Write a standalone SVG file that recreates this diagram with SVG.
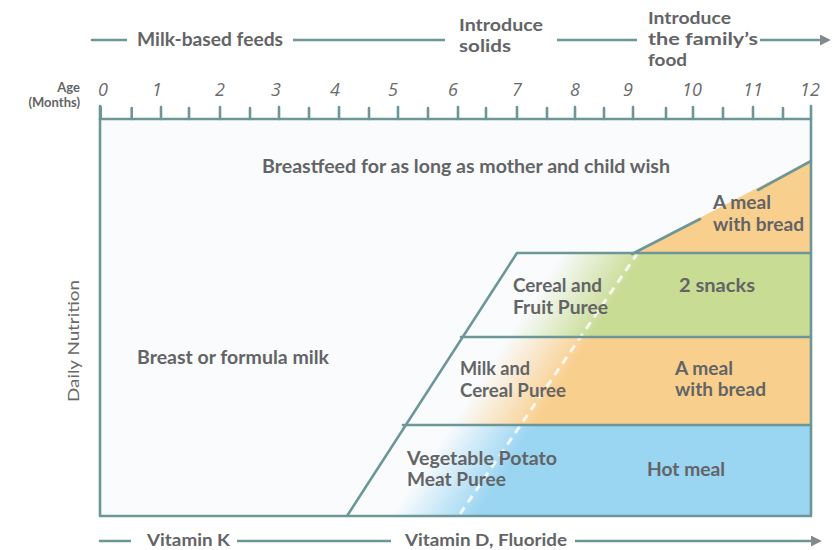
<svg xmlns="http://www.w3.org/2000/svg" width="836" height="550" viewBox="0 0 836 550">
<defs>
<style>
.t{font-family:Lato,"Open Sans","Liberation Sans",sans-serif;font-weight:700;font-size:19px;fill:#636466}
.u{font-family:Lato,"Open Sans","Liberation Sans",sans-serif;font-weight:700;font-size:17.5px;fill:#636466}
.s{font-family:Lato,"Open Sans","Liberation Sans",sans-serif;font-weight:700;font-size:13px;fill:#636466}
.v{font-family:Lato,"Open Sans","Liberation Sans",sans-serif;font-weight:400;font-size:16px;fill:#68696b}
.n{font-family:"Open Sans","Liberation Sans",sans-serif;font-style:italic;font-size:18px;fill:#6a6b6d;text-anchor:middle}
.ln{fill:none;stroke:#6c9698;stroke-width:2.6;stroke-linecap:round;stroke-linejoin:round}
.arr{fill:none;stroke:#6c9698;stroke-width:2.6;stroke-linecap:round}
.gap{fill:#ffffff}
.dash{fill:none;stroke:#ffffff;stroke-width:3;stroke-dasharray:8 6;opacity:0.8}
</style>
<marker id="ah" viewBox="0 0 10 10" refX="2" refY="5" markerWidth="11" markerHeight="11" markerUnits="userSpaceOnUse" orient="auto"><path d="M0,0 L10,5 L0,10 Z" fill="#85898b"/></marker>
<linearGradient id="gG" gradientUnits="userSpaceOnUse" x1="535" y1="295" x2="594" y2="333"><stop offset="0" stop-color="#c8dc94" stop-opacity="0"/><stop offset="1" stop-color="#c8dc94"/></linearGradient>
<linearGradient id="gO" gradientUnits="userSpaceOnUse" x1="535" y1="295" x2="594" y2="333"><stop offset="0" stop-color="#f9cf8e" stop-opacity="0"/><stop offset="1" stop-color="#f9cf8e"/></linearGradient>
<linearGradient id="gB" gradientUnits="userSpaceOnUse" x1="535" y1="295" x2="594" y2="333"><stop offset="0" stop-color="#9ad5f2" stop-opacity="0"/><stop offset="1" stop-color="#9ad5f2"/></linearGradient>
</defs>
<rect width="836" height="550" fill="#ffffff"/>

<g id="chart-area">
<rect x="100" y="119" width="711" height="397" fill="#f9fbfd"/>
</g>

<g id="band-top-meal">
<polygon points="632,253 811,160 811,253" fill="#f9cf8e"/>
</g>

<g id="band-snacks">
<polygon points="517,253 811,253 811,337 461,337" fill="url(#gG)"/>
</g>

<g id="band-meal-bread">
<polygon points="461,337 811,337 811,425 403,425" fill="url(#gO)"/>
</g>

<g id="band-hot-meal">
<polygon points="403,425 811,425 811,516 347,516" fill="url(#gB)"/>
</g>

<g id="transition-line">
<line class="dash" x1="460" y1="514" x2="637" y2="254"/>
</g>

<g id="connectors">
<path class="ln" d="M347,516 L517,253 L811,253"/>
<path class="ln" d="M461,337 L811,337"/>
<path class="ln" d="M403,425 L811,425"/>
<path class="ln" d="M632,254 L700,219"/>
<path class="ln" d="M758,190 L811,161"/>
<path class="ln" d="M100,106 L100,516 L811,516 L811,106"/>
<path class="ln" d="M100,119 L811,119"/>
<path class="ln" d="M100.7,107V119 M131.7,108V119 M161,107V119 M189,108V119 M220,107V119 M250,108V119 M279,107V119 M309,108V119 M339,107V119 M369,108V119 M398,107V119 M428,108V119 M458,107V119 M486,108V119 M517,107V119 M547,108V119 M575,107V119 M604,108V119 M633,107V119 M666,108V119 M693,107V119 M723,108V119 M753,107V119 M783,108V119"/>
<path class="arr" d="M92,40 L822,40" marker-end="url(#ah)"/>
<path class="arr" d="M100,541 L813,541" marker-end="url(#ah)"/>
</g>

<g id="label-top-meal">
<text class="t" x="713" y="209" textLength="58" lengthAdjust="spacingAndGlyphs">A meal</text>
<text class="t" x="713" y="231" textLength="91" lengthAdjust="spacingAndGlyphs">with bread</text>
</g>
<g id="label-snacks">
<text class="t" x="513" y="292" textLength="89" lengthAdjust="spacingAndGlyphs">Cereal and</text>
<text class="t" x="513" y="314" textLength="95" lengthAdjust="spacingAndGlyphs">Fruit Puree</text>
<text class="t" x="679" y="292" textLength="76" lengthAdjust="spacingAndGlyphs">2 snacks</text>
</g>
<g id="label-meal-bread">
<text class="t" x="460" y="375" textLength="70" lengthAdjust="spacingAndGlyphs">Milk and</text>
<text class="t" x="460" y="397" textLength="106" lengthAdjust="spacingAndGlyphs">Cereal Puree</text>
<text class="t" x="675" y="375" textLength="58" lengthAdjust="spacingAndGlyphs">A meal</text>
<text class="t" x="675" y="396" textLength="91" lengthAdjust="spacingAndGlyphs">with bread</text>
</g>
<g id="label-hot-meal">
<text class="t" x="407" y="465" textLength="150" lengthAdjust="spacingAndGlyphs">Vegetable Potato</text>
<text class="t" x="407" y="486" textLength="99" lengthAdjust="spacingAndGlyphs">Meat Puree</text>
<text class="t" x="647" y="476" textLength="78" lengthAdjust="spacingAndGlyphs">Hot meal</text>
</g>

<g id="breastfeed">
<text class="t" x="262" y="173" textLength="408" lengthAdjust="spacingAndGlyphs">Breastfeed for as long as mother and child wish</text>
</g>

<g id="milk">
<text class="t" x="137" y="364" textLength="192" lengthAdjust="spacingAndGlyphs">Breast or formula milk</text>
</g>

<g id="axis-labels">
<text class="s" x="80" y="92" text-anchor="end">Age</text>
<text class="s" x="80" y="107" text-anchor="end">(Months)</text>
<text class="n" x="103" y="96">0</text>
<text class="n" x="157" y="96">1</text>
<text class="n" x="220" y="96">2</text>
<text class="n" x="276" y="96">3</text>
<text class="n" x="335" y="96">4</text>
<text class="n" x="393" y="96">5</text>
<text class="n" x="453" y="96">6</text>
<text class="n" x="517" y="96">7</text>
<text class="n" x="575" y="96">8</text>
<text class="n" x="628" y="96">9</text>
<text class="n" x="692" y="96">10</text>
<text class="n" x="753" y="96">11</text>
<text class="n" x="810" y="96">12</text>
<text class="v" transform="translate(79,341) rotate(-90)" text-anchor="middle" textLength="122" lengthAdjust="spacingAndGlyphs">Daily Nutrition</text>
</g>

<g id="stage-milk-feeds">
<rect class="gap" x="127" y="26" width="166" height="28"/>
<text class="t" x="137" y="46" textLength="146" lengthAdjust="spacingAndGlyphs">Milk-based feeds</text>
</g>
<g id="stage-solids">
<rect class="gap" x="445" y="10" width="112" height="46"/>
<text class="u" x="459" y="31" textLength="84" lengthAdjust="spacingAndGlyphs">Introduce</text>
<text class="u" x="459" y="52" textLength="52" lengthAdjust="spacingAndGlyphs">solids</text>
</g>
<g id="stage-family-food">
<rect class="gap" x="637" y="4" width="123" height="66"/>
<text class="u" x="648" y="24" textLength="83" lengthAdjust="spacingAndGlyphs">Introduce</text>
<text class="u" x="648" y="45" textLength="110" lengthAdjust="spacingAndGlyphs">the family’s</text>
<text class="u" x="648" y="66" textLength="39" lengthAdjust="spacingAndGlyphs">food</text>
</g>
<g id="vitamin-k">
<rect class="gap" x="131" y="530" width="106" height="20"/>
<text class="u" x="147" y="546" textLength="83" lengthAdjust="spacingAndGlyphs">Vitamin K</text>
</g>
<g id="vitamin-d">
<rect class="gap" x="391" y="530" width="184" height="20"/>
<text class="u" x="405" y="546" textLength="162" lengthAdjust="spacingAndGlyphs">Vitamin D, Fluoride</text>
</g>
</svg>
